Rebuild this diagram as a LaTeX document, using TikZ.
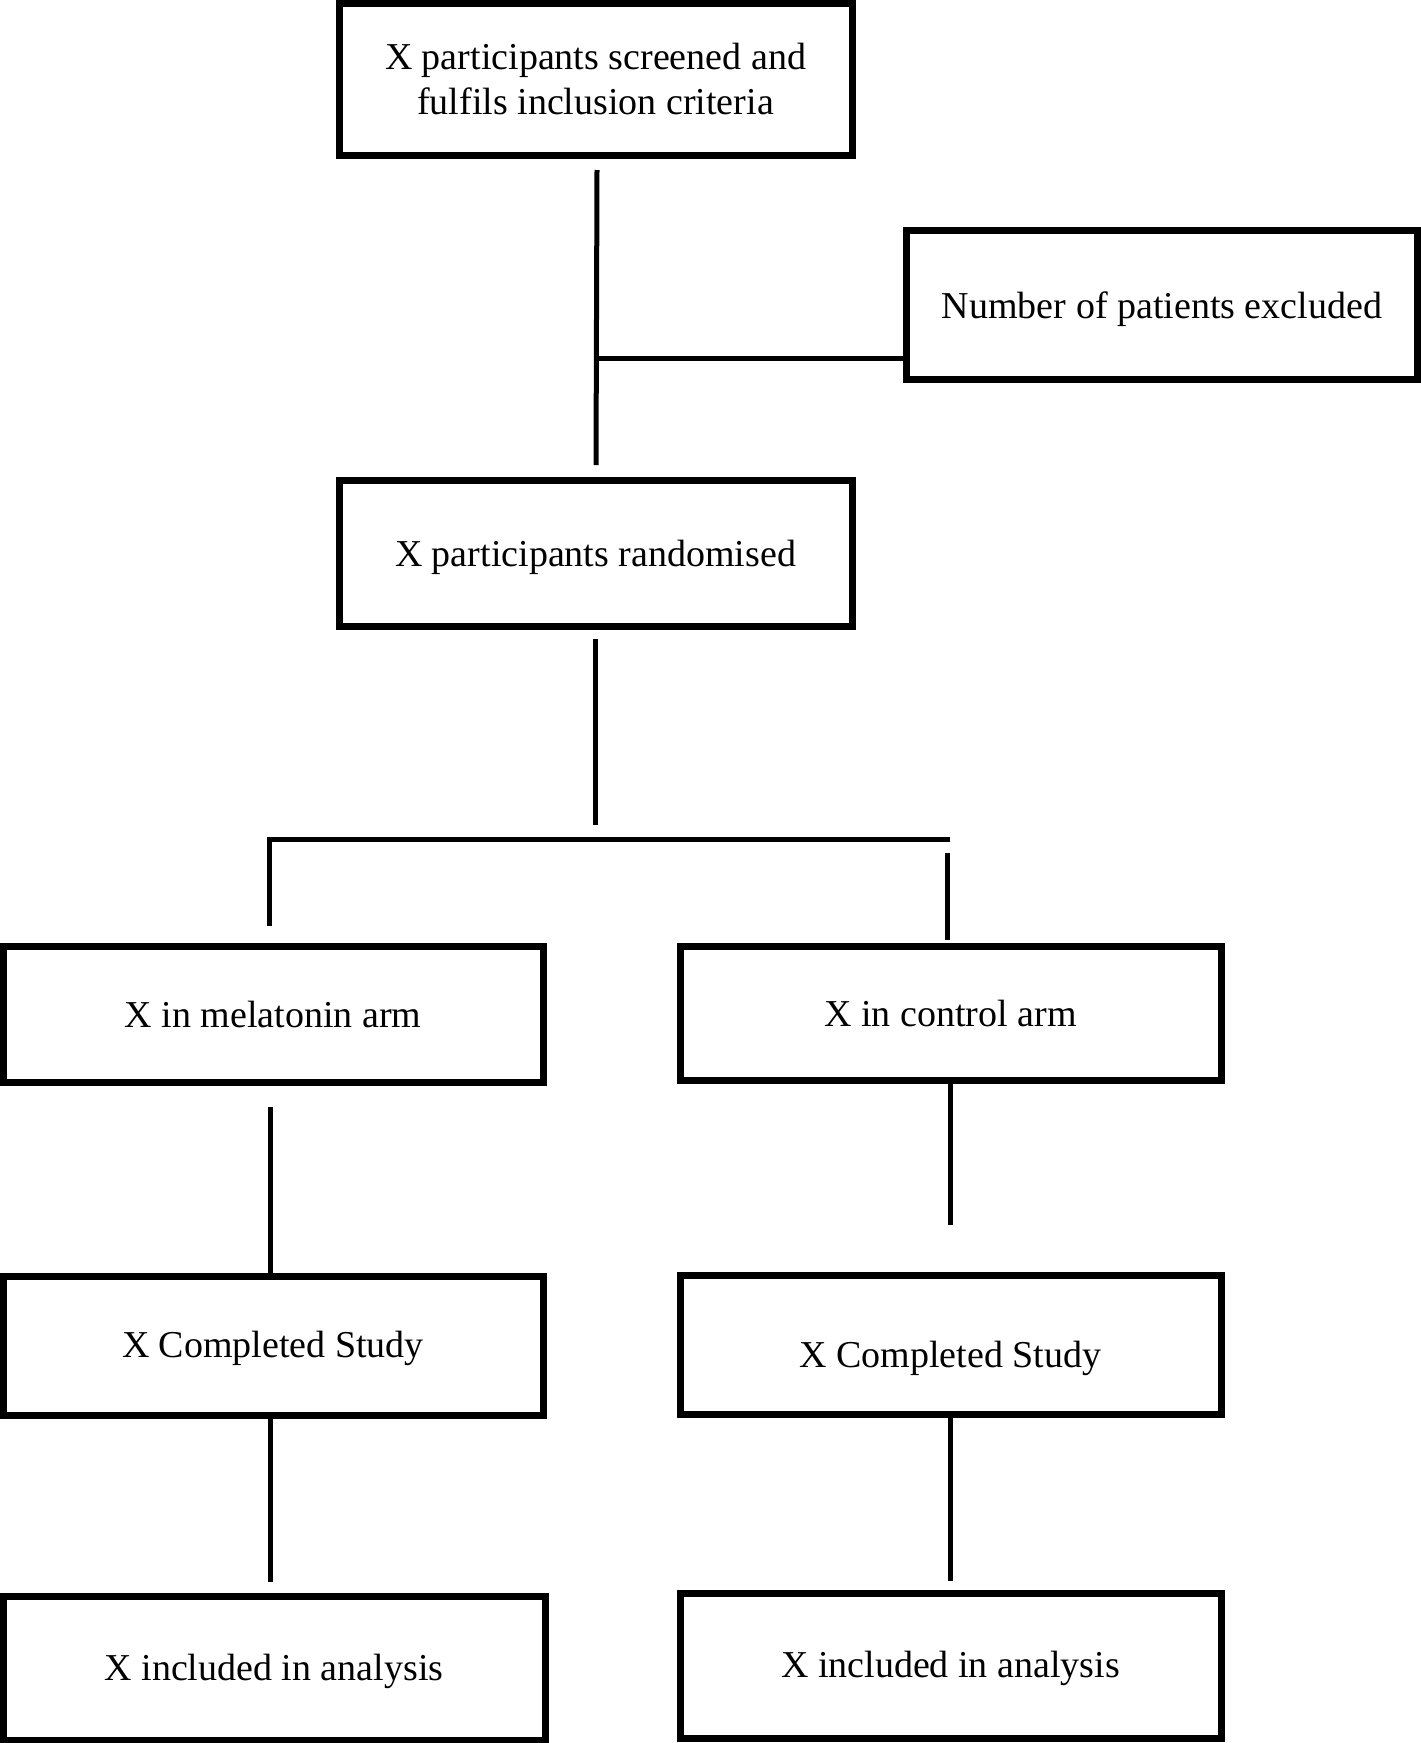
\documentclass[tikz,border=0pt]{standalone}
\usepackage{fontspec}
\setmainfont{Liberation Serif}
\newcommand\lowtxt[2]{\raisebox{-#1pt}[\height][\depth]{#2}}
\begin{document}
\begin{tikzpicture}[x=1pt,y=-1pt,
  box/.style={draw=black,line width=7pt,rectangle,align=center,inner sep=0pt,font=\fontsize{38}{45}\selectfont},
  conn/.style={draw=black,line width=5pt}]
\useasboundingbox (0,0) rectangle (1421,1743);
% boxes
\node[box,minimum width=513pt,minimum height=152pt] (b1) at (595.5,79) {X participants screened and\\fulfils inclusion criteria};
\node[box,minimum width=511pt,minimum height=149pt] (ex) at (1162,304.5) {\lowtxt{5}{Number of patients excluded}};
\node[box,minimum width=513pt,minimum height=146pt] (b2) at (595.5,553) {\lowtxt{4}{X participants randomised}};
\node[box,minimum width=540pt,minimum height=136pt] (mel) at (273,1014) {X in melatonin arm};
\node[box,minimum width=541pt,minimum height=134pt] (con) at (950.5,1013) {X in control arm};
\node[box,minimum width=540pt,minimum height=139pt] (cl) at (273,1345.5) {\lowtxt{3}{X Completed Study}};
\node[box,minimum width=541pt,minimum height=139pt] (cr) at (950.5,1344.5) {\lowtxt{14}{X Completed Study}};
\node[box,minimum width=542pt,minimum height=144pt] (al) at (274,1668) {\lowtxt{3}{X included in analysis}};
\node[box,minimum width=541pt,minimum height=145pt] (ar) at (950.5,1665.5) {\lowtxt{3}{X included in analysis}};
% connector points
\coordinate (t1) at (597,170);
\coordinate (t2) at (596,465);
\coordinate (j1) at (597,358);
\coordinate (r1) at (595,639);
\coordinate (r2) at (595,825);
\coordinate (hl) at (269,839);
\coordinate (hr) at (950,839);
\coordinate (dl) at (269,926);
\coordinate (rt) at (947,853);
\coordinate (rb) at (947,940);
\coordinate (ml1) at (270,1107);
\coordinate (cr1) at (950,1225);
\coordinate (cl2) at (270,1582);
\coordinate (cr2) at (950,1581);
% connectors
\draw[conn] (t1) -- (t2);
\draw[conn] (j1) -- (ex.west|-j1);
\draw[conn] (r1) -- (r2);
\draw[conn] (hr) -- (hl) -- (dl);
\draw[conn] (rt) -- (rb);
\draw[conn] (ml1) -- (cl.north-|ml1);
\draw[conn] (con.south-|cr1) -- (cr1);
\draw[conn] (cl.south-|cl2) -- (cl2);
\draw[conn] (cr.south-|cr2) -- (cr2);
\end{tikzpicture}
\end{document}
